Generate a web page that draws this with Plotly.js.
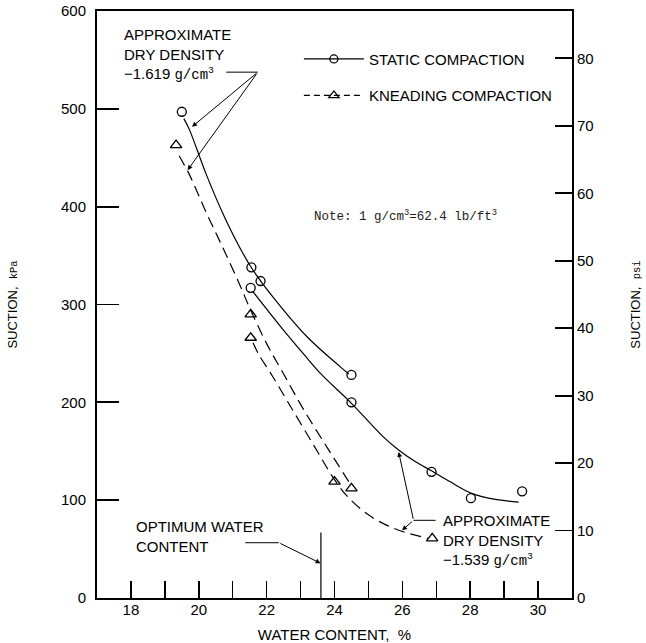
<!DOCTYPE html>
<html>
<head>
<meta charset="utf-8">
<script src="https://cdn.plot.ly/plotly-3.0.1.min.js"></script>
<style>
  html, body { margin: 0; padding: 0; background: #ffffff; }
  #chart { width: 646px; height: 643px; }
</style>
</head>
<body>
<div id="chart"></div>
<script>
// ---------------- data ----------------
const KPA_PER_PSI = 6.895;

// measured points: static compaction
const staticWc1619 = [19.5, 21.55, 21.82, 24.5];
const staticSuction1619 = [497, 338, 324, 228];
const staticWc1539 = [21.53, 24.5, 26.86, 28.02, 29.53];
const staticSuction1539 = [317, 200, 129, 102, 109];

// measured points: kneading compaction
const kneadWc1619 = [19.33, 21.53, 24.5];
const kneadSuction1619 = [463, 290, 112];
const kneadWc1539 = [21.53, 24.0, 26.88];
const kneadSuction1539 = [266, 119, 61];

// fitted curves
const staticCurveWc1619 = [19.56, 19.72, 20.22, 20.71, 21.21, 21.6, 22.2, 23.19, 24.18, 24.42];
const staticCurveSuction1619 = [490, 479, 433, 393, 358, 335, 307, 267, 236, 229];
const staticCurveWc1539 = [21.6, 22.4, 23.1, 23.6, 24.5, 25.4, 25.9, 26.4, 26.86, 27.4, 28.04, 28.7, 29.43];
const staticCurveSuction1539 = [313, 278, 249, 229, 199, 166, 151, 139, 130, 119, 107, 101, 98];
const kneadCurveWc1619 = [19.42, 19.72, 20.22, 20.71, 21.21, 21.53, 22.0, 22.5, 23.1, 23.8, 24.42];
const kneadCurveSuction1619 = [452, 433, 394, 358, 320, 294, 260, 229, 192, 153, 119];
const kneadCurveWc1539 = [21.6, 21.75, 22.15, 22.7, 23.39, 24.0, 24.4, 25.0, 25.5, 26.0, 26.75];
const kneadCurveSuction1539 = [261, 250, 228, 196, 156, 121, 103, 85, 75, 68, 61];

// optimum water content marker
const optimumWc = 23.6;
const optimumLineTop = 67;

// axes
const xRange = [17, 31];
const yRange = [0, 600];
const seriesNames = ['STATIC COMPACTION', 'KNEADING COMPACTION'];

// ---------------- styles ----------------
const SANS = 'Liberation Sans, Arial, Helvetica, sans-serif';
const MONO = 'Liberation Mono, DejaVu Sans Mono, monospace';
const BLACK = '#000000';
const DASH = '11px,6px';

const solidLine = {color: BLACK, width: 1.2, shape: 'spline', smoothing: 1};
const dashLine = {color: BLACK, width: 1.2, shape: 'spline', smoothing: 1, dash: DASH};
const circleMarker = {symbol: 'circle-open', size: 9, color: BLACK, line: {width: 1.3, color: BLACK}};
const triMarker = {symbol: 'triangle-up-open', size: 10, color: BLACK, line: {width: 1.3, color: BLACK}};

const traces = [
  // curves
  {x: staticCurveWc1619, y: staticCurveSuction1619, mode: 'lines', line: solidLine, showlegend: false, hoverinfo: 'skip'},
  {x: staticCurveWc1539, y: staticCurveSuction1539, mode: 'lines', line: solidLine, showlegend: false, hoverinfo: 'skip'},
  {x: kneadCurveWc1619, y: kneadCurveSuction1619, mode: 'lines', line: dashLine, showlegend: false, hoverinfo: 'skip'},
  {x: kneadCurveWc1539, y: kneadCurveSuction1539, mode: 'lines', line: dashLine, showlegend: false, hoverinfo: 'skip'},
  // points
  {x: staticWc1619, y: staticSuction1619, mode: 'markers', marker: circleMarker, showlegend: false},
  {x: staticWc1539, y: staticSuction1539, mode: 'markers', marker: circleMarker, showlegend: false},
  {x: kneadWc1619, y: kneadSuction1619, mode: 'markers', marker: triMarker, showlegend: false},
  {x: kneadWc1539, y: kneadSuction1539, mode: 'markers', marker: triMarker, showlegend: false},
  // optimum water content line
  {x: [optimumWc, optimumWc], y: [0, optimumLineTop], mode: 'lines', line: {color: BLACK, width: 1.2}, showlegend: false, hoverinfo: 'skip'},
  // legend entries
  {x: [null], y: [null], mode: 'lines+markers', name: seriesNames[0], legendgroup: 'a',
   line: {color: BLACK, width: 1.2}, marker: Object.assign({}, circleMarker, {size: 8})},
  {x: [null], y: [null], mode: 'lines+markers', name: seriesNames[1], legendgroup: 'b',
   line: {color: BLACK, width: 1.2, dash: '6px,4px'}, marker: Object.assign({}, triMarker, {size: 9})},
  // psi axis
  {x: [null], y: [null], yaxis: 'y2', mode: 'markers', showlegend: false, hoverinfo: 'skip'}
];

const unitSpan = (t, size) => '<span style="font-family:' + MONO + ';font-size:' + size + 'px">' + t + '</span>';

function arrow(x, y, ax, ay) {
  return {x: x, y: y, ax: ax, ay: ay, xref: 'x', yref: 'y', axref: 'x', ayref: 'y',
          text: '', showarrow: true, arrowhead: 2, arrowsize: 1, arrowwidth: 1, arrowcolor: BLACK, standoff: 0, startstandoff: 0};
}
function leader(x0, x1, y) {
  return {type: 'line', xref: 'x', yref: 'y', x0: x0, x1: x1, y0: y, y1: y, line: {color: BLACK, width: 1}};
}

const annotations = [
  {x: 17.73, y: 556, xref: 'x', yref: 'y', xanchor: 'left', yanchor: 'middle', align: 'left', showarrow: false,
   text: 'APPROXIMATE<br>DRY DENSITY<br>\u22121.619 ' + unitSpan('g/cm<sup>3</sup>', 14),
   font: {family: SANS, size: 15, color: BLACK}},
  arrow(19.80, 481.6, 21.74, 537.5),
  arrow(19.67, 437.3, 21.74, 537.5),
  {x: 23.33, y: 390, xref: 'x', yref: 'y', xanchor: 'left', yanchor: 'middle', showarrow: false,
   text: 'Note: 1 g/cm<sup>3</sup>=62.4 lb/ft<sup>3</sup>',
   font: {family: MONO, size: 12.5, color: '#222222'}},
  {x: 27.13, y: 59, xref: 'x', yref: 'y', xanchor: 'left', yanchor: 'middle', align: 'left', showarrow: false,
   text: 'APPROXIMATE<br>DRY DENSITY<br>\u22121.539 ' + unitSpan('g/cm<sup>3</sup>', 14),
   font: {family: SANS, size: 15, color: BLACK}},
  arrow(25.89, 149.3, 26.33, 79.4),
  arrow(25.99, 69.2, 26.33, 79.4),
  {x: 18.09, y: 62.6, xref: 'x', yref: 'y', xanchor: 'left', yanchor: 'middle', align: 'left', showarrow: false,
   text: 'OPTIMUM WATER<br>CONTENT',
   font: {family: SANS, size: 15, color: BLACK}},
  arrow(23.59, 35.5, 22.36, 56.5)
];

const shapes = [
  leader(20.81, 21.74, 537.5),
  leader(26.33, 26.98, 79.4),
  leader(21.37, 22.36, 56.5)
];

const layout = {
  width: 646, height: 643,
  margin: {l: 97, r: 74, t: 11, b: 45, pad: 0},
  paper_bgcolor: '#ffffff', plot_bgcolor: '#ffffff',
  font: {family: SANS, size: 15, color: BLACK},
  showlegend: true,
  legend: {x: 0.425, y: 0.946, xanchor: 'left', yanchor: 'top', bgcolor: 'rgba(0,0,0,0)',
           itemwidth: 60, tracegroupgap: 14, font: {family: SANS, size: 15, color: BLACK}},
  xaxis: {
    range: xRange, tick0: 0, dtick: 2, ticks: 'inside', ticklen: 17, tickwidth: 1.5, tickcolor: BLACK,
    minor: {dtick: 1, ticks: 'inside', ticklen: 17, tickwidth: 1.5, tickcolor: BLACK, showgrid: false},
    showline: true, linewidth: 2, linecolor: BLACK, mirror: true,
    showgrid: false, zeroline: false, ticklabelstandoff: -3,
    tickfont: {family: SANS, size: 15, color: BLACK},
    title: {text: 'WATER CONTENT,  %', font: {family: SANS, size: 15, color: BLACK}, standoff: 12}
  },
  yaxis: {
    range: yRange, dtick: 100, ticks: 'inside', ticklen: 22, tickwidth: 1.8, tickcolor: BLACK,
    showline: true, linewidth: 2, linecolor: BLACK,
    showgrid: false, zeroline: false, ticklabelstandoff: 6,
    tickfont: {family: SANS, size: 15, color: BLACK},
    title: {text: 'SUCTION,  ' + unitSpan('kPa', 10.5), font: {family: SANS, size: 13, color: BLACK}, standoff: 40}
  },
  yaxis2: {
    overlaying: 'y', side: 'right', range: yRange.map(v => v / KPA_PER_PSI), dtick: 10,
    ticks: 'inside', ticklen: 17, tickwidth: 1.8, tickcolor: BLACK,
    showline: true, linewidth: 2, linecolor: BLACK,
    showgrid: false, zeroline: false, ticklabelstandoff: 0,
    tickfont: {family: SANS, size: 15, color: BLACK},
    title: {text: 'SUCTION,  ' + unitSpan('psi', 10.5), font: {family: SANS, size: 13, color: BLACK}, standoff: 38}
  },
  annotations: annotations,
  shapes: shapes
};

Plotly.newPlot('chart', traces, layout, {staticPlot: true, displayModeBar: false});
</script>
</body>
</html>
